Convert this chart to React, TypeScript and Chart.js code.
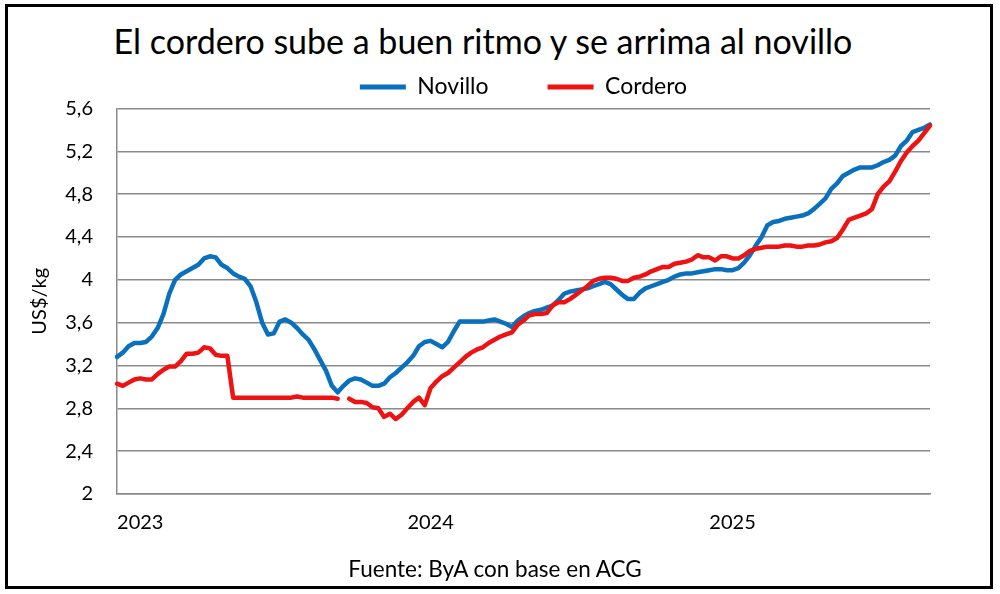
import { useEffect, useRef } from 'react';
import { Chart, registerables } from 'chart.js';

Chart.register(...registerables);

// precio semanal, US$/kg
const novillo = [
  3.28, 3.32, 3.38, 3.41, 3.41, 3.42, 3.47, 3.55, 3.68, 3.87,
  4.00, 4.05, 4.08, 4.11, 4.14, 4.20, 4.22, 4.21, 4.14, 4.11,
  4.06, 4.03, 4.01, 3.94, 3.79, 3.60, 3.49, 3.50, 3.61, 3.63,
  3.60, 3.55, 3.49, 3.44, 3.35, 3.25, 3.15, 3.01, 2.95, 3.01,
  3.06, 3.08, 3.07, 3.04, 3.01, 3.01, 3.03, 3.09, 3.13, 3.18,
  3.23, 3.29, 3.38, 3.42, 3.43, 3.40, 3.37, 3.42, 3.52, 3.61,
  3.61, 3.61, 3.61, 3.61, 3.62, 3.63, 3.61, 3.59, 3.56, 3.62,
  3.66, 3.69, 3.71, 3.72, 3.74, 3.76, 3.81, 3.87, 3.89, 3.90,
  3.91, 3.92, 3.94, 3.96, 3.98, 3.96, 3.91, 3.86, 3.82, 3.82,
  3.88, 3.92, 3.94, 3.96, 3.98, 4.00, 4.03, 4.05, 4.06, 4.06,
  4.07, 4.08, 4.09, 4.10, 4.10, 4.09, 4.09, 4.11, 4.16, 4.23,
  4.32, 4.40, 4.51, 4.54, 4.55, 4.57, 4.58, 4.59, 4.60, 4.62,
  4.66, 4.71, 4.76, 4.85, 4.90, 4.97, 5.00, 5.03, 5.05, 5.05,
  5.05, 5.07, 5.10, 5.12, 5.16, 5.25, 5.30, 5.38, 5.40, 5.42,
  5.45,
];

const cordero = [
  3.03, 3.01, 3.04, 3.07, 3.08, 3.07, 3.07, 3.12, 3.16, 3.19,
  3.19, 3.24, 3.31, 3.31, 3.32, 3.37, 3.36, 3.30, 3.29, 3.29,
  2.90, 2.90, 2.90, 2.90, 2.90, 2.90, 2.90, 2.90, 2.90, 2.90,
  2.90, 2.91, 2.90, 2.90, 2.90, 2.90, 2.90, 2.90, 2.89, null,
  2.89, 2.86, 2.86, 2.85, 2.81, 2.80, 2.72, 2.75, 2.70, 2.74,
  2.80, 2.86, 2.90, 2.83, 2.99, 3.05, 3.10, 3.13, 3.18, 3.23,
  3.28, 3.32, 3.35, 3.37, 3.41, 3.44, 3.47, 3.49, 3.51, 3.58,
  3.62, 3.67, 3.68, 3.68, 3.69, 3.76, 3.79, 3.79, 3.82, 3.86,
  3.90, 3.94, 3.99, 4.01, 4.02, 4.02, 4.01, 3.99, 3.99, 4.02,
  4.03, 4.05, 4.08, 4.10, 4.12, 4.12, 4.15, 4.16, 4.17, 4.19,
  4.23, 4.21, 4.21, 4.18, 4.22, 4.22, 4.20, 4.20, 4.23, 4.27,
  4.29, 4.30, 4.31, 4.31, 4.31, 4.32, 4.32, 4.31, 4.31, 4.32,
  4.32, 4.33, 4.35, 4.36, 4.39, 4.47, 4.56, 4.58, 4.60, 4.62,
  4.66, 4.80, 4.87, 4.92, 5.01, 5.11, 5.19, 5.25, 5.30, 5.37,
  5.44,
];

const yearLabels = ['2023', '2024', '2025'];
const yearWeek = [4, 54, 106];

const labels = novillo.map((_, i) => {
  const k = yearWeek.indexOf(i);
  return k >= 0 ? yearLabels[k] : '';
});

const FONT = 'Lato, sans-serif';
const GRID = '#8a8a8a';
const BLUE = '#0870bd';
const RED = '#ee1212';

export default function App() {
  const canvasRef = useRef<HTMLCanvasElement | null>(null);

  useEffect(() => {
    if (!canvasRef.current) return;
    const chart = new Chart(canvasRef.current, {
      type: 'line',
      data: {
        labels,
        datasets: [
          { label: 'Novillo', data: novillo, borderColor: BLUE, backgroundColor: BLUE, order: 1 },
          { label: 'Cordero', data: cordero, borderColor: RED, backgroundColor: RED, order: 0 },
        ],
      },
      options: {
        responsive: false,
        animation: false,
        layout: { padding: { left: 24, right: 70, top: 16.5, bottom: 50 } },
        elements: {
          point: { radius: 0 },
          line: { borderWidth: 4.5, tension: 0, borderCapStyle: 'round', borderJoinStyle: 'round' },
        },
        plugins: {
          tooltip: { enabled: false },
          legend: {
            position: 'top',
            fullSize: false,
            labels: {
              color: '#000',
              font: { family: FONT, size: 23 },
              boxWidth: 46,
              boxHeight: 5,
              padding: 59,
              sort: (a, b) => (a.datasetIndex ?? 0) - (b.datasetIndex ?? 0),
              generateLabels: (c) =>
                Chart.defaults.plugins.legend.labels.generateLabels(c).map((l) => ({ ...l, lineWidth: 0 })),
            },
          },
        },
        scales: {
          x: {
            grid: { display: false, drawTicks: false },
            border: { color: GRID, width: 1.5 },
            ticks: {
              autoSkip: false,
              maxRotation: 0,
              padding: 17,
              color: '#000',
              font: { family: FONT, size: 20 },
            },
            afterFit: (s) => {
              s.height = 50;
            },
          },
          y: {
            min: 2,
            max: 5.6,
            grid: { color: GRID, lineWidth: 1.5, drawTicks: false },
            border: { color: GRID, width: 1.5 },
            ticks: {
              stepSize: 0.4,
              padding: 24,
              color: '#000',
              font: { family: FONT, size: 20 },
              callback: (v) => String(Math.round(Number(v) * 10) / 10).replace('.', ','),
            },
            title: {
              display: true,
              text: 'US$/kg',
              color: '#000',
              font: { family: FONT, size: 20 },
            },
            afterFit: (s) => {
              s.width = 93;
            },
          },
        },
      },
    });
    return () => chart.destroy();
  }, []);

  return (
    <div style={{ position: 'fixed', left: 0, top: 0, width: 1000, height: 594, background: '#fff', fontFamily: FONT }}>
      <div
        style={{
          position: 'absolute',
          left: 5,
          top: 4,
          width: 988,
          height: 585,
          boxSizing: 'border-box',
          border: '3px solid #000',
        }}
      />
      <div
        style={{
          position: 'absolute',
          left: 0,
          top: 23.5,
          width: 966,
          textAlign: 'center',
          fontSize: 34,
          lineHeight: 1,
          color: '#000',
          whiteSpace: 'nowrap',
        }}
      >
        El cordero sube a buen ritmo y se arrima al novillo
      </div>
      <canvas ref={canvasRef} width={1000} height={594} style={{ position: 'absolute', left: 0, top: 0 }} />
      <div
        style={{
          position: 'absolute',
          left: 0,
          top: 558,
          width: 990,
          textAlign: 'center',
          fontSize: 22.5,
          lineHeight: 1,
          color: '#000',
          whiteSpace: 'nowrap',
        }}
      >
        Fuente: ByA con base en ACG
      </div>
    </div>
  );
}
